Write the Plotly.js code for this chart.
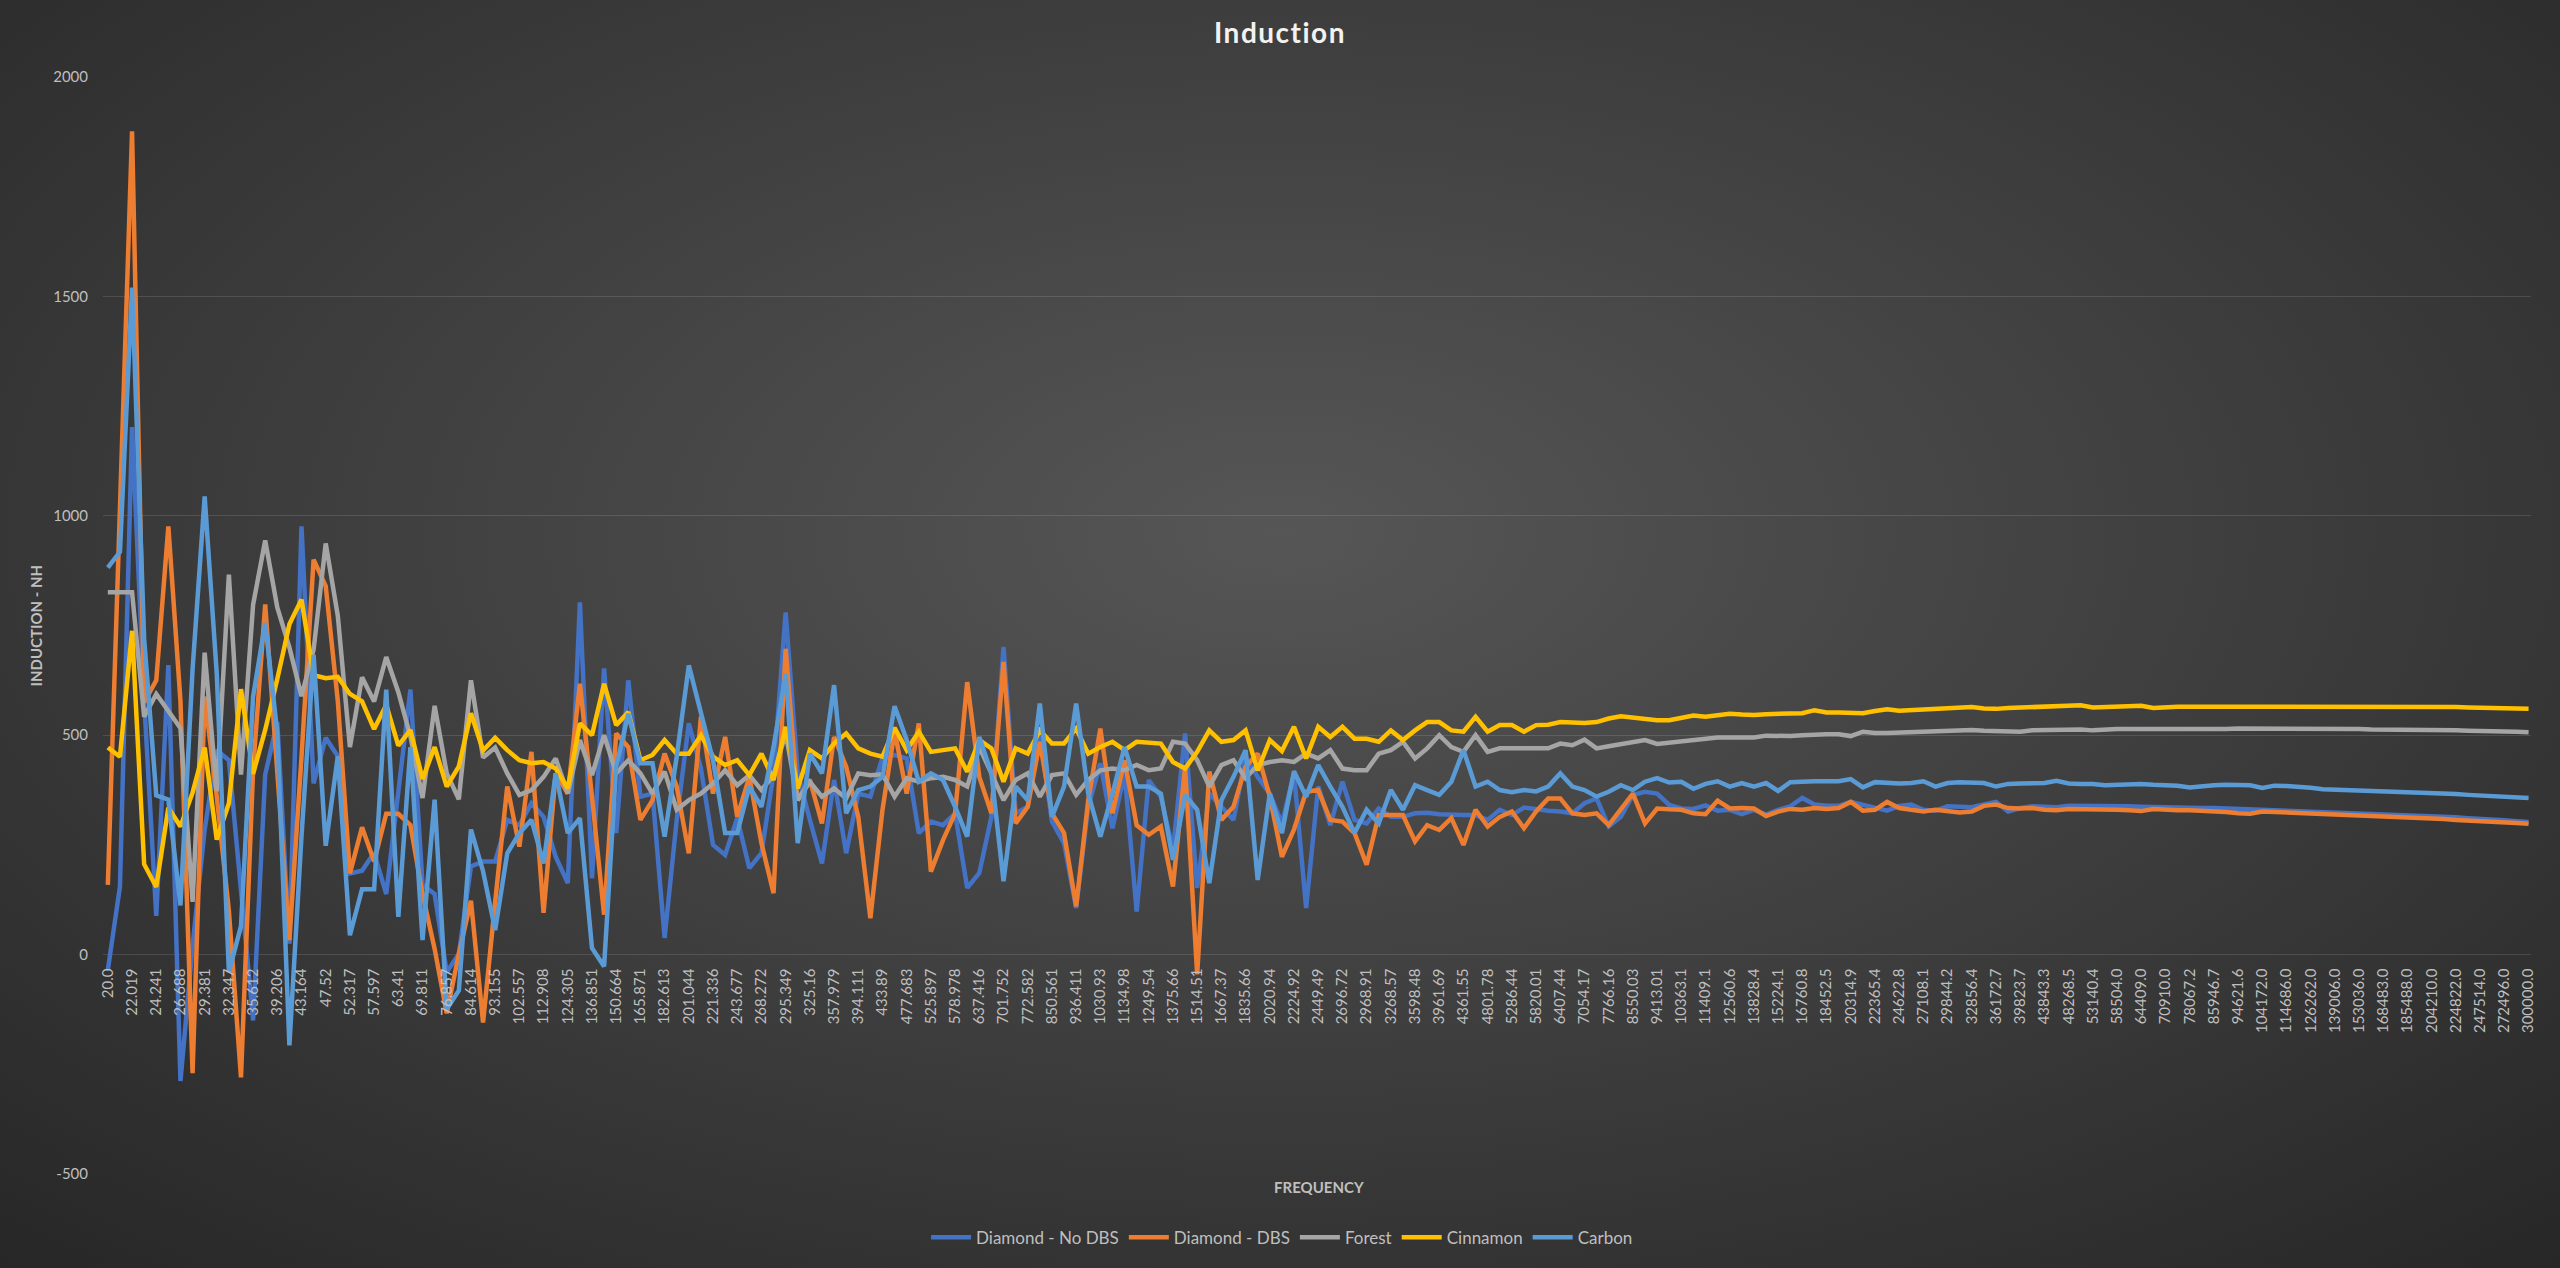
<!DOCTYPE html>
<html>
<head>
<meta charset="utf-8">
<script src="https://cdn.plot.ly/plotly-3.0.1.min.js"></script>
<style>
  html, body { margin: 0; padding: 0; }
  body {
    width: 2560px; height: 1268px; overflow: hidden;
    background: radial-gradient(ellipse 75% 80% at 50% 42%, #565656 0%, #3e3e3e 50%, #262626 100%);
  }
  #chart { width: 2560px; height: 1268px; }
  .gtitle { letter-spacing: 1.5px; }
</style>
</head>
<body>
<div id="chart"></div>
<script>
    'use strict';

    // x axis labels, one on every second frequency step
    const freqLabels = [
        '20.0', '22.019', '24.241', '26.688', '29.381', '32.347', '35.612', '39.206', '43.164', '47.52',
        '52.317', '57.597', '63.41', '69.811', '76.857', '84.614', '93.155', '102.557', '112.908', '124.305',
        '136.851', '150.664', '165.871', '182.613', '201.044', '221.336', '243.677', '268.272', '295.349', '325.16',
        '357.979', '394.111', '433.89', '477.683', '525.897', '578.978', '637.416', '701.752', '772.582', '850.561',
        '936.411', '1030.93', '1134.98', '1249.54', '1375.66', '1514.51', '1667.37', '1835.66', '2020.94', '2224.92',
        '2449.49', '2696.72', '2968.91', '3268.57', '3598.48', '3961.69', '4361.55', '4801.78', '5286.44', '5820.01',
        '6407.44', '7054.17', '7766.16', '8550.03', '9413.01', '10363.1', '11409.1', '12560.6', '13828.4', '15224.1',
        '16760.8', '18452.5', '20314.9', '22365.4', '24622.8', '27108.1', '29844.2', '32856.4', '36172.7', '39823.7',
        '43843.3', '48268.5', '53140.4', '58504.0', '64409.0', '70910.0', '78067.2', '85946.7', '94621.6', '104172.0',
        '114686.0', '126262.0', '139006.0', '153036.0', '168483.0', '185488.0', '204210.0', '224822.0', '247514.0', '272496.0',
        '300000.0'
    ];

    // y axis ticks (plain hyphen for the minus sign, as in the original)
    const inductionTicks = [-500, 0, 500, 1000, 1500, 2000];
    const inductionTickText = ['-500', '0', '500', '1000', '1500', '2000'];

    const diamondNoDbs = [
        -35, 155, 1202, 580, 88, 660, -288, 20, 285, 466, 443, 150, -150, 410, 530, 25, 976,
        390, 494, 452, 185, 191, 232, 138, 369, 604, 159, 138, -40, 2, 201, 212, 212,
        307, 295, 345, 314, 223, 163, 803, 174, 652, 277, 625, 360, 367, 38, 307, 527, 424, 250,
        227, 311, 197, 231, 413, 780, 413, 307, 208, 398, 231, 367, 360, 449, 455,
        447, 277, 303, 295, 322, 152, 186, 314, 701, 322, 337, 504, 303, 254, 106, 337, 436,
        288, 413, 98, 398, 360, 239, 504, 152, 367, 337, 307, 451, 405, 367, 299, 413,
        106, 383, 295, 394, 307, 299, 333, 314, 314, 322, 323, 320, 318, 318, 318, 307, 330,
        318, 335, 331, 328, 326, 322, 345, 356, 292, 314, 364, 371, 367, 341, 333, 332,
        340, 328, 330, 320, 330, 319, 330, 338, 357, 342, 339, 339, 348, 342, 334, 328, 339, 342,
        330, 328, 338, 337, 336, 342, 348, 326, 334, 338, 338, 336, 339, 339, 339, 340, 339, 338,
        337, 336, 336, 335, 334, 334, 334, 333, 332, 331, 330, 329, 328, 328, 327, 326, 325,
        324, 323, 322, 321, 320, 319, 318, 316, 315, 313, 311, 310, 308, 306, 304, 302
    ];

    const diamondDbs = [
        159, 980, 1876, 575, 625, 976, 578, -270, 588, 360, 100, -280, 421, 798, 430, 33, 450,
        900, 840, 578, 185, 290, 212, 321, 321, 295, 138, 13, -134, 2, 123, -155, 120,
        383, 246, 462, 95, 413, 367, 617, 360, 91, 504, 473, 307, 352, 458, 383, 231, 542, 367,
        496, 314, 405, 254, 140, 697, 352, 398, 299, 496, 428, 314, 83, 330, 510,
        367, 527, 189, 261, 322, 621, 405, 322, 667, 299, 337, 485, 322, 277, 110, 352, 515,
        322, 443, 295, 273, 292, 155, 428, -45, 417, 307, 337, 428, 458, 360, 223, 285,
        371, 375, 307, 303, 277, 205, 318, 318, 318, 258, 295, 284, 311, 250, 330, 292, 314,
        326, 288, 326, 356, 356, 322, 318, 322, 295, 333, 367, 299, 333, 331, 330, 322,
        320, 351, 333, 334, 333, 316, 326, 332, 330, 334, 332, 334, 348, 328, 330, 348, 334, 330,
        326, 330, 326, 324, 326, 339, 342, 334, 333, 334, 330, 329, 332, 332, 332, 332, 330, 329,
        327, 332, 330, 329, 329, 328, 326, 325, 322, 321, 326, 325, 324, 323, 322, 321, 320,
        319, 318, 317, 316, 315, 314, 312, 310, 309, 307, 306, 304, 303, 301, 300, 298
    ];

    const forest = [
        826, 826, 826, 542, 594, 555, 516, 120, 688, 372, 866, 410, 797, 944, 791, 700, 589,
        695, 937, 772, 473, 632, 577, 678, 598, 497, 357, 567, 413, 354, 625, 449, 472,
        413, 364, 375, 405, 447, 367, 489, 409, 500, 413, 443, 413, 367, 417, 330, 352, 367, 390,
        420, 386, 409, 375, 409, 504, 352, 394, 360, 379, 356, 413, 409, 411, 360,
        402, 394, 402, 405, 398, 383, 473, 413, 352, 398, 413, 360, 409, 413, 364, 398, 420,
        424, 420, 432, 420, 424, 485, 481, 443, 383, 432, 443, 402, 432, 439, 443, 439,
        458, 447, 466, 424, 420, 420, 458, 466, 485, 447, 470, 500, 473, 462, 500, 462, 470,
        470, 470, 470, 470, 481, 477, 490, 470, 475, 480, 483, 489, 480, 483, 487, 490,
        493, 495, 495, 495, 495, 499, 498, 498, 500, 502, 502, 502, 498, 508, 505, 505, 506, 506,
        506, 507, 508, 510, 512, 510, 509, 510, 508, 511, 512, 513, 513, 513, 511, 513, 514, 514,
        514, 513, 513, 513, 512, 513, 514, 514, 515, 515, 515, 516, 515, 515, 515, 514, 514,
        514, 514, 513, 513, 513, 512, 512, 512, 511, 511, 510, 510, 509, 509, 508, 507
    ];

    const cinnamon = [
        472, 451, 738, 206, 154, 335, 292, 369, 472, 262, 345, 605, 412, 512, 628, 753, 809,
        637, 630, 633, 594, 577, 514, 569, 476, 512, 400, 473, 383, 429, 550, 465, 494,
        466, 443, 436, 439, 424, 379, 527, 500, 617, 523, 553, 443, 455, 489, 458, 458, 500, 451,
        432, 443, 409, 458, 398, 519, 379, 466, 447, 481, 504, 470, 458, 451, 517,
        466, 508, 462, 466, 470, 417, 489, 470, 394, 470, 458, 511, 481, 481, 515, 458, 473,
        485, 466, 485, 482, 481, 439, 424, 462, 511, 485, 489, 511, 420, 489, 464, 519,
        447, 519, 496, 519, 492, 492, 485, 511, 489, 511, 530, 530, 511, 508, 542, 508, 523,
        523, 508, 523, 524, 530, 528, 528, 530, 538, 543, 540, 536, 534, 534, 539, 545,
        542, 545, 549, 547, 546, 548, 549, 550, 550, 557, 552, 552, 552, 550, 555, 559, 556, 557,
        558, 560, 561, 562, 564, 561, 560, 562, 563, 563, 563, 564, 565, 568, 563, 564, 566, 567,
        567, 562, 564, 565, 565, 565, 565, 565, 565, 565, 566, 566, 565, 565, 565, 566, 566,
        566, 566, 565, 565, 565, 565, 565, 564, 564, 564, 563, 562, 562, 561, 561, 560
    ];

    const carbon = [
        882, 918, 1520, 720, 363, 353, 112, 650, 1044, 640, -40, 65, 588, 756, 505, -207, 270,
        683, 248, 452, 44, 149, 149, 604, 86, 473, 33, 353, -124, -82, 285, 190, 56,
        231, 277, 307, 208, 413, 277, 311, 15, -27, 428, 549, 436, 436, 269, 451, 659, 549, 443,
        277, 277, 383, 337, 473, 640, 254, 458, 413, 614, 322, 375, 383, 405, 566,
        489, 394, 413, 398, 337, 269, 496, 413, 167, 383, 352, 572, 314, 383, 572, 367, 269,
        367, 473, 383, 383, 367, 216, 364, 330, 163, 352, 405, 466, 170, 367, 277, 418,
        360, 432, 383, 337, 277, 330, 299, 375, 330, 386, 375, 364, 394, 466, 383, 394, 375,
        370, 375, 372, 383, 413, 383, 375, 360, 371, 386, 375, 394, 402, 392, 394, 378,
        389, 395, 383, 391, 383, 391, 373, 393, 395, 395, 395, 395, 400, 381, 393, 391, 390, 391,
        395, 383, 391, 393, 393, 391, 383, 389, 390, 391, 391, 396, 390, 389, 389, 386, 387, 387,
        389, 387, 386, 385, 381, 384, 386, 387, 387, 386, 380, 385, 384, 383, 380, 377, 376,
        377, 376, 374, 372, 371, 370, 370, 369, 368, 366, 364, 363, 361, 360, 358, 357
    ];

    const seriesNames = ['Diamond - No DBS', 'Diamond - DBS', 'Forest', 'Cinnamon', 'Carbon'];
    const seriesValues = [diamondNoDbs, diamondDbs, forest, cinnamon, carbon];
    const seriesColors = ['#4472C4', '#ED7D31', '#A5A5A5', '#FFC000', '#5B9BD5'];

    const TEXT_COLOR = '#bfbfbf';
    const GRID_COLOR = 'rgba(255,255,255,0.12)';
    const FONT = 'Lato, "Open Sans", "DejaVu Sans", sans-serif';

    let data = seriesValues.map((values, k) => ({
        type: 'scatter',
        mode: 'lines',
        name: seriesNames[k],
        y: values,
        line: {color: seriesColors[k], width: 4.5, shape: 'linear'},
        hoverinfo: 'skip'
    }));

    let layout = {
        width: 2560,
        height: 1268,
        paper_bgcolor: 'rgba(0,0,0,0)',
        plot_bgcolor: 'rgba(0,0,0,0)',
        margin: {l: 103, r: 29, t: 77, b: 92, pad: 0},
        font: {family: FONT, color: TEXT_COLOR, size: 15},
        showlegend: true,
        title: {
            text: '<b>Induction</b>',
            font: {family: FONT, size: 28, color: '#f2f2f2'},
            x: 0.5,
            xref: 'container',
            y: 1 - 33 / 1268,
            yref: 'container',
            yanchor: 'middle'
        },
        xaxis: {
            range: [-0.4, 200.2],
            tickmode: 'array',
            tickvals: freqLabels.map((_, k) => 2 * k),
            ticktext: freqLabels,
            tickangle: -90,
            tickfont: {size: 15, color: TEXT_COLOR},
            ticks: '',
            ticklabelstandoff: 10,
            showgrid: false,
            zeroline: false,
            showline: false,
            anchor: 'free',
            position: 0.2,
            fixedrange: true
        },
        yaxis: {
            range: [-500, 2000],
            tickmode: 'array',
            tickvals: inductionTicks,
            ticktext: inductionTickText,
            tickfont: {size: 15, color: TEXT_COLOR},
            ticks: '',
            ticklabelstandoff: 14,
            showgrid: true,
            gridcolor: GRID_COLOR,
            gridwidth: 1.3,
            zeroline: true,
            zerolinecolor: GRID_COLOR,
            zerolinewidth: 1.3,
            showline: false,
            fixedrange: true
        },
        legend: {
            orientation: 'h',
            x: 0.4856,
            xanchor: 'center',
            y: -0.058,
            yanchor: 'middle',
            font: {size: 17, color: TEXT_COLOR},
            itemwidth: 40,
            bgcolor: 'rgba(0,0,0,0)',
            traceorder: 'normal'
        },
        annotations: [
            {
                text: '<b>FREQUENCY</b>',
                xref: 'paper', yref: 'paper',
                x: 0.5008, y: -0.0118,
                xanchor: 'center', yanchor: 'middle',
                showarrow: false,
                font: {size: 15, color: TEXT_COLOR}
            },
            {
                text: '<b>INDUCTION - NH</b>',
                xref: 'paper', yref: 'paper',
                x: -0.028, y: 0.5,
                xanchor: 'center', yanchor: 'middle',
                textangle: -90,
                showarrow: false,
                font: {size: 15, color: TEXT_COLOR}
            }
        ]
    };

    Plotly.newPlot('chart', data, layout, {displayModeBar: false, staticPlot: true});
</script>
</body>
</html>
